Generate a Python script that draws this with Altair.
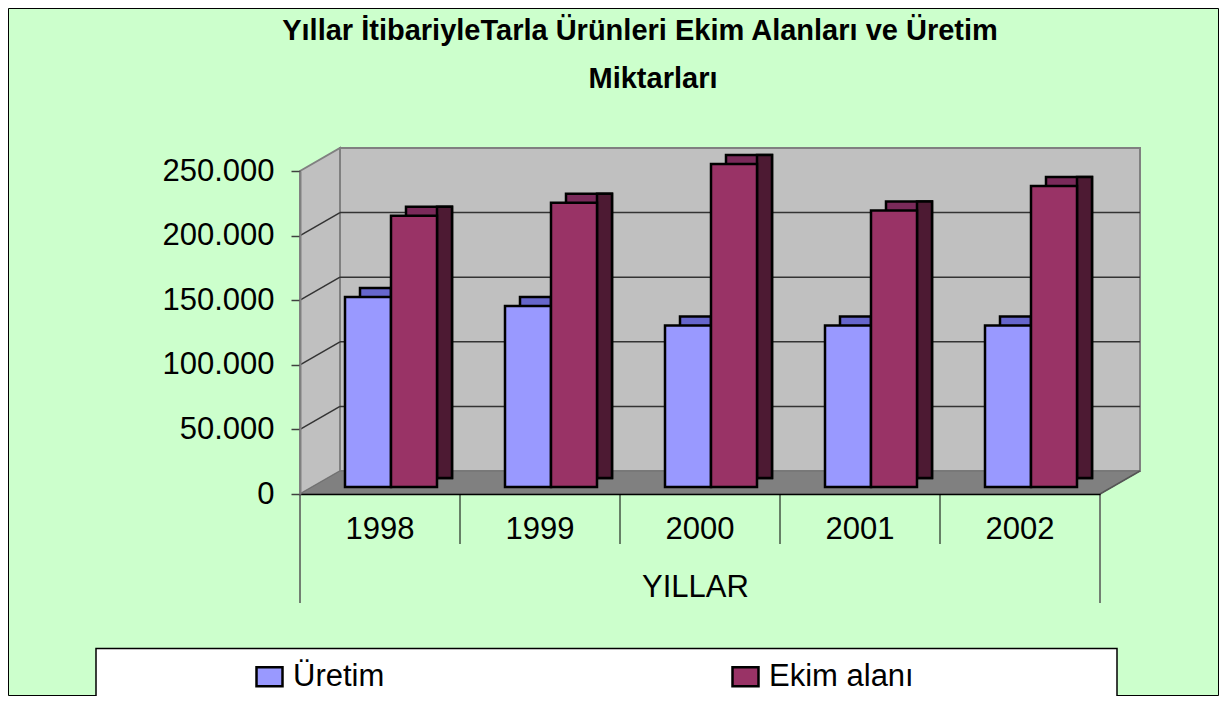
import altair as alt
import pandas as pd

# ---- data ----
years = ["1998", "1999", "2000", "2001", "2002"]
series = ["Üretim", "Ekim alanı"]
uretim = [147000, 140000, 125000, 125000, 125000]
ekim = [210000, 220000, 250000, 214000, 233000]
y_ticks = [0, 50000, 100000, 150000, 200000, 250000]
title_lines = ["Yıllar İtibariyleTarla Ürünleri Ekim Alanları ve Üretim", "Miktarları"]
x_title = "YILLAR"

front_colors = ["#9999FF", "#993366"]
top_colors = ["#6666CC", "#7A2A5A"]
side_colors = ["#333399", "#4D1A33"]

FONT = "Liberation Sans, Arial, sans-serif"

# ---- geometry (plot-area pixels) ----
W, H = 800, 323
DX, DY = 40, 23          # depth of the 3-D box
SY = 7                   # bars set back from the front edge
BDX, BDY = 15, 9         # depth of each bar
BAR_W = 46
BAR_OFF = [-12, 34]      # centre of each series' bar relative to band centre
PAD_L, PAD_T, CANVAS_W, CANVAS_H = 292, 163, 1211, 688

rows = []
for i, yr in enumerate(years):
    rows.append({"year": yr, "series": series[0], "val": uretim[i]})
    rows.append({"year": yr, "series": series[1], "val": ekim[i]})
df = pd.DataFrame(rows)

one = pd.DataFrame({"k": [0]})

x_scale = alt.Scale(domain=years, paddingInner=0, paddingOuter=0)
y_scale = alt.Scale(domain=[0, 250000], nice=False)
color_scale = alt.Scale(domain=series, range=front_colors)

# outer border of the whole chart
border = alt.Chart(one).mark_rect(fillOpacity=0, stroke="black", strokeWidth=1).encode(
    x=alt.value(-PAD_L + 0.5), x2=alt.value(CANVAS_W - PAD_L - 0.5),
    y=alt.value(-PAD_T + 0.5), y2=alt.value(CANVAS_H - PAD_T - 0.5))

# back wall
back_wall = alt.Chart(one).mark_rect(fill="#C0C0C0", stroke="#808080", strokeWidth=2).encode(
    x=alt.value(DX), x2=alt.value(W + DX), y=alt.value(-DY), y2=alt.value(H - DY))

# left wall (parallelogram)
lw = pd.DataFrame({"px": [0, DX], "py": [0, -DY], "py2": [H, H - DY]})
left_wall = alt.Chart(lw).mark_area(fill="#C0C0C0", stroke="#808080", strokeWidth=2, orient="vertical").encode(
    x=alt.X("px:Q", scale=None), y=alt.Y("py:Q", scale=None), y2=alt.Y2("py2"))

# floor (parallelogram)
fl = pd.DataFrame({"py": [H - DY, H], "px1": [DX, 0], "px2": [W + DX, W]})
floor = alt.Chart(fl).mark_area(fill="#808080", stroke="#707070", strokeWidth=1, orient="horizontal").encode(
    y=alt.Y("py:Q", scale=None), x=alt.X("px1:Q", scale=None), x2=alt.X2("px2"))

gdf = pd.DataFrame({"val": y_ticks[1:-1]})
grid_back = alt.Chart(gdf).mark_rule(color="#333333", strokeWidth=1.5, yOffset=-DY).encode(
    x=alt.value(DX), x2=alt.value(W + DX), y=alt.Y("val:Q", scale=y_scale))
grid_left = alt.Chart(gdf).mark_rule(color="#333333", strokeWidth=1.5, y2Offset=-DY).encode(
    x=alt.value(0), x2=alt.value(DX), y=alt.Y("val:Q", scale=y_scale), y2=alt.Y2("val"))

x_axis = alt.Axis(
    title=x_title, labelAngle=0, labelFontSize=31, labelFont=FONT, labelColor="black",
    labelAlign="center", bandPosition=0.5,
    ticks=False, tickSize=0, labelPadding=44, labelBaseline="alphabetic",
    domainColor="black", domainWidth=1.5, zindex=1, grid=False,
    titleFontSize=31, titleFont=FONT, titleFontWeight="normal", titleColor="black",
    titleX=395, titleY=102, titleBaseline="alphabetic", titleAlign="center")
y_axis = alt.Axis(
    values=y_ticks, labelExpr="replace(format(datum.value, ','), ',', '.')",
    labelFontSize=31, labelFont=FONT, labelColor="black", labelPadding=17,
    tickSize=9, tickColor="#404040", tickWidth=1.5,
    domainColor="#808080", domainWidth=2, grid=False, title=None, zindex=1)
legend = alt.Legend(
    orient="none", legendX=-46, legendY=490, direction="horizontal",
    title=None, labelFontSize=31, labelFont=FONT, labelColor="black",
    symbolType="M-1,-0.73H1V0.73H-1Z", symbolSize=676,
    symbolStrokeColor="black", symbolStrokeWidth=2.5, symbolOpacity=1,
    labelOffset=8, columnPadding=342, padding=0)

layers_top, layers_side, layers_front = [], [], []
for i, s in enumerate(series):
    base = alt.Chart(df).transform_filter(alt.datum.series == s)
    enc = dict(x=alt.X("year:N", scale=x_scale), y=alt.Y("val:Q", scale=y_scale))
    # top face (shifted copy of the bar)
    layers_top.append(base.mark_bar(
        width=BAR_W, fill=top_colors[i], stroke="black", strokeWidth=2.5,
        xOffset=BAR_OFF[i] + BDX, yOffset=-(SY + BDY), y2Offset=-(SY + BDY)
    ).encode(**enc))
    # side face
    layers_side.append(base.mark_bar(
        width=BDX, fill=side_colors[i], stroke="black", strokeWidth=2.5,
        xOffset=BAR_OFF[i] + BAR_W / 2 + BDX / 2, yOffset=-(SY + BDY), y2Offset=-(SY + BDY / 2)
    ).encode(**enc))
    # front face
    layers_front.append(base.mark_bar(
        width=BAR_W, stroke="black", strokeWidth=2.5, opacity=1,
        xOffset=BAR_OFF[i], yOffset=-SY, y2Offset=-SY
    ).encode(
        x=alt.X("year:N", scale=x_scale, axis=x_axis),
        y=alt.Y("val:Q", scale=y_scale, axis=y_axis),
        color=alt.Color("series:N", sort=series, scale=color_scale, legend=legend),
    ))

sep_df = pd.DataFrame({"year": years[1:]})
separators = alt.Chart(sep_df).mark_rule(color="black", strokeWidth=1).encode(
    x=alt.X("year:N", scale=x_scale, bandPosition=0),
    y=alt.value(H), y2=alt.value(H + 50))
outer_l = alt.Chart(pd.DataFrame({"year": [years[0]]})).mark_rule(color="#555555", strokeWidth=1.5).encode(
    x=alt.X("year:N", scale=x_scale, bandPosition=0),
    y=alt.value(H), y2=alt.value(H + 109))
outer_r = alt.Chart(pd.DataFrame({"year": [years[-1]]})).mark_rule(color="#555555", strokeWidth=1.5).encode(
    x=alt.X("year:N", scale=x_scale, bandPosition=1),
    y=alt.value(H), y2=alt.value(H + 109))
right_diag = alt.Chart(one).mark_rule(color="#555555", strokeWidth=1.5).encode(
    x=alt.value(W), x2=alt.value(W + DX), y=alt.value(H), y2=alt.value(H - DY))

t1 = alt.Chart(pd.DataFrame({"t": [title_lines[0]]})).mark_text(
    font=FONT, fontSize=29, fontWeight="bold", color="black", align="center", baseline="alphabetic"
).encode(x=alt.value(340), y=alt.value(-131), text="t:N")
t2 = alt.Chart(pd.DataFrame({"t": [title_lines[1]]})).mark_text(
    font=FONT, fontSize=29, fontWeight="bold", color="black", align="center", baseline="alphabetic"
).encode(x=alt.value(353), y=alt.value(-83), text="t:N")

legend_box = alt.Chart(one).mark_rect(fill="white", stroke="black", strokeWidth=1.5).encode(
    x=alt.value(-204), x2=alt.value(817), y=alt.value(477.5), y2=alt.value(560))

chart = alt.layer(
    border, back_wall, left_wall, floor, grid_back, grid_left,
    *layers_top, *layers_side, *layers_front,
    separators, outer_l, outer_r, right_diag,
    t1, t2, legend_box
).properties(
    width=W, height=H,
    padding={"left": PAD_L, "top": PAD_T, "right": CANVAS_W - PAD_L - W, "bottom": CANVAS_H - PAD_T - H},
    autosize=alt.AutoSizeParams(type="none"),
    background="#CCFFCC",
).configure_view(strokeWidth=0)

chart.save("out.html", embed_options={"renderer": "svg", "actions": False})
